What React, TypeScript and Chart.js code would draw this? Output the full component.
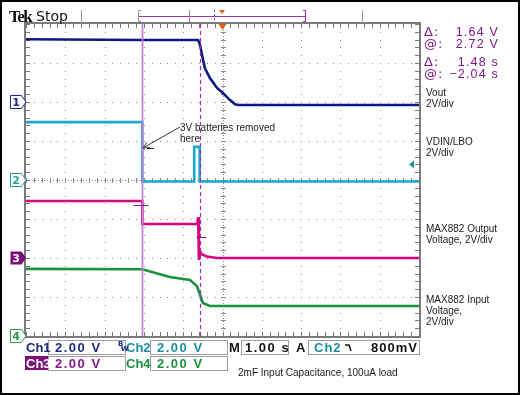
import React, { useEffect, useRef } from "react";
import { Chart, registerables } from "chart.js";
Chart.register(...registerables);

// time in seconds (1 s/div, trigger at 0), values in volts (2 V/div)
const ch1T = [-5, -2.04, -0.62, -0.57, -0.52, -0.45, -0.32, -0.14, 0.01, 0.19, 0.32, 0.4, 5];
const ch1V = [3.22, 3.18, 3.18, 2.92, 2.41, 1.74, 1.23, 0.72, 0.46, 0.1, -0.12, -0.15, -0.15];
const ch2T = [-5, -2.04, -2.04, -0.72, -0.72, -0.58, -0.58, 5];
const ch2V = [2.97, 2.97, -0.08, -0.08, 1.7, 1.7, -0.08, -0.08];
const ch3T = [-5, -2.04, -2.04, -0.64, -0.62, -0.6, -0.58, -0.52, -0.4, -0.14, 5];
const ch3V = [2.92, 2.92, 1.74, 1.74, 2.1, -0.1, 0.35, 0.18, 0.08, 0.0, 0.0];
const ch4T = [-5, -2.04, -1.34, -0.83, -0.65, -0.57, -0.5, -0.32, 5];
const ch4V = [3.44, 3.42, 3.03, 2.87, 2.56, 2.1, 1.69, 1.54, 1.54];

const channelNames = ["Ch1", "Ch2", "Ch3", "Ch4"];
const channelOffsets = [2, 0, -2, -4]; // ground positions in divisions
const channelColors = ["#0d1a86", "#1aa8d0", "#d8067e", "#17933c"];
const markerColors = ["#1a2a90", "#2a9c9c", "#7a0f7a", "#2a9a4a"];
const textColors = ["#1a2a86", "#1a8fa2", "#84168a", "#17933c"];
const voltsPerDiv = 2;
const cursorTimes = [-2.04, -0.56];
const cursorVolts = [2.72, 1.08];
const triggerLevel = 0.8;
const readouts = [["Δ:", "1.64 V"], ["@:", "2.72 V"], ["Δ:", "1.48 s"], ["@:", "−2.04 s"]];
const traceLabels = [
  ["Vout", "2V/div"],
  ["VDIN/LBO", "2V/div"],
  ["MAX882 Output", "Voltage, 2V/div"],
  ["MAX882 Input", "Voltage,", "2V/div"],
];
const scaleTexts = ["2.00 V", "2.00 V", "2.00 V", "2.00 V"];
const noteText = ["3V batteries removed", "here"];
const footText = "2mF Input Capacitance, 100uA load";

const PURPLE = "#84168a";
const STATUS_FONT = "bold 13px 'Liberation Sans', Arial, sans-serif";

const scopePlugin = {
  id: "scope",
  beforeDatasetsDraw(chart: any) {
    const { ctx, chartArea: a, scales } = chart;
    const xs = scales.x, ys = scales.y;
    ctx.save();
    ctx.fillStyle = "#8a8a8a";
    for (let i = -4; i <= 4; i++) {
      if (i === 0) continue;
      const px = Math.round(xs.getPixelForValue(i));
      for (let j = -20; j <= 20; j++) {
        const py = Math.round(ys.getPixelForValue(j / 5));
        ctx.fillRect(px, py, 1, 1);
      }
    }
    for (let j = -3; j <= 3; j++) {
      if (j === 0) continue;
      const py = Math.round(ys.getPixelForValue(j));
      for (let i = -25; i <= 25; i++) {
        const px = Math.round(xs.getPixelForValue(i / 5));
        ctx.fillRect(px, py, 1, 1);
      }
    }
    const cx = Math.round(xs.getPixelForValue(0));
    const cy = Math.round(ys.getPixelForValue(0));
    for (let j = -20; j <= 20; j++) {
      const py = Math.round(ys.getPixelForValue(j / 5));
      ctx.fillRect(cx - 2, py, 5, 1);
    }
    for (let py = a.top; py < a.bottom; py += 3) ctx.fillRect(cx, py, 1, 1);
    for (let i = -25; i <= 25; i++) {
      const px = Math.round(xs.getPixelForValue(i / 5));
      ctx.fillRect(px, cy - 2, 1, 5);
    }
    for (let px = a.left; px < a.right; px += 3) ctx.fillRect(px, cy, 1, 1);
    ctx.fillStyle = "#777";
    for (let i = -25; i <= 25; i++) {
      const px = Math.round(xs.getPixelForValue(i / 5));
      ctx.fillRect(px, a.top, 1, 4);
      ctx.fillRect(px, a.bottom - 4, 1, 4);
    }
    for (let j = -20; j <= 20; j++) {
      const py = Math.round(ys.getPixelForValue(j / 5));
      ctx.fillRect(a.left, py, 4, 1);
      ctx.fillRect(a.right - 4, py, 4, 1);
    }
    ctx.strokeStyle = "#7a7a7a";
    ctx.lineWidth = 2;
    ctx.strokeRect(a.left - 1, a.top - 1, a.right - a.left + 2, a.bottom - a.top + 2);
    ctx.restore();
  },
  afterDatasetsDraw(chart: any) {
    const { ctx, chartArea: a, scales } = chart;
    const xs = scales.x, ys = scales.y;
    ctx.save();
    const c1 = Math.round(xs.getPixelForValue(cursorTimes[0])) + 0.5;
    const c2 = Math.round(xs.getPixelForValue(cursorTimes[1])) + 0.5;
    ctx.strokeStyle = "#c47fd0";
    ctx.lineWidth = 1.8;
    ctx.beginPath();
    ctx.moveTo(c1, a.top);
    ctx.lineTo(c1, a.bottom);
    ctx.stroke();
    ctx.strokeStyle = "#a428b0";
    ctx.lineWidth = 1.2;
    ctx.setLineDash([4, 3]);
    ctx.beginPath();
    ctx.moveTo(c2, a.top);
    ctx.lineTo(c2, a.bottom);
    ctx.stroke();
    ctx.setLineDash([]);
    ctx.strokeStyle = "#8a1a8a";
    ctx.lineWidth = 1;
    const v1 = Math.round(ys.getPixelForValue(channelOffsets[2] + cursorVolts[0] / voltsPerDiv)) + 0.5;
    const v2 = Math.round(ys.getPixelForValue(channelOffsets[2] + cursorVolts[1] / voltsPerDiv)) + 0.5;
    ctx.beginPath();
    ctx.moveTo(c1 - 9, v1); ctx.lineTo(c1 + 6, v1);
    ctx.moveTo(c2 - 4, v2); ctx.lineTo(c2 + 6, v2);
    ctx.stroke();
    const tx = xs.getPixelForValue(0);
    ctx.fillStyle = "#e0620f";
    ctx.beginPath();
    ctx.moveTo(tx - 4, a.top); ctx.lineTo(tx + 4, a.top); ctx.lineTo(tx, a.top + 6); ctx.closePath();
    ctx.fill();
    const ty = ys.getPixelForValue(channelOffsets[1] + triggerLevel / voltsPerDiv);
    ctx.fillStyle = "#1f8f9a";
    ctx.beginPath();
    ctx.moveTo(a.right - 10, ty); ctx.lineTo(a.right - 5, ty - 4); ctx.lineTo(a.right - 5, ty + 4); ctx.closePath();
    ctx.fill();
    ctx.fillStyle = "#222";
    ctx.font = "10px 'Liberation Sans', Arial, sans-serif";
    ctx.textBaseline = "alphabetic";
    ctx.fillText(noteText[0], 180, 131);
    ctx.fillText(noteText[1], 180, 142);
    ctx.strokeStyle = "#333";
    ctx.lineWidth = 1;
    const ax = c1 + 0.5, ay = 148;
    ctx.beginPath();
    ctx.moveTo(180, 127); ctx.lineTo(ax, ay);
    ctx.stroke();
    const ang = Math.atan2(ay - 127, ax - 180);
    ctx.beginPath();
    ctx.moveTo(ax, ay);
    ctx.lineTo(ax - 7 * Math.cos(ang - 0.45), ay - 7 * Math.sin(ang - 0.45));
    ctx.moveTo(ax, ay);
    ctx.lineTo(ax - 7 * Math.cos(ang + 0.45), ay - 7 * Math.sin(ang + 0.45));
    ctx.stroke();
    ctx.fillStyle = "#222";
    ctx.fillRect(147, 148, 7, 1);
    for (let k = 0; k < 4; k++) {
      const my = Math.round(ys.getPixelForValue(channelOffsets[k]));
      const left = 10, right = 21, tip = 26;
      ctx.beginPath();
      ctx.moveTo(left + 0.5, my - 6.5);
      ctx.lineTo(right + 0.5, my - 6.5);
      ctx.lineTo(tip, my);
      ctx.lineTo(right + 0.5, my + 6.5);
      ctx.lineTo(left + 0.5, my + 6.5);
      ctx.closePath();
      if (k === 2) {
        ctx.fillStyle = markerColors[k];
        ctx.fill();
      } else {
        ctx.fillStyle = "#fff";
        ctx.fill();
        ctx.strokeStyle = markerColors[k];
        ctx.lineWidth = 1;
        ctx.stroke();
      }
      ctx.fillStyle = k === 2 ? "#fff" : markerColors[k];
      ctx.font = "bold 11px 'DejaVu Sans', sans-serif";
      ctx.textAlign = "center";
      ctx.textBaseline = "middle";
      ctx.fillText(String(k + 1), 16, my + 1);
    }
    ctx.restore();
  },
  afterDraw(chart: any) {
    const { ctx } = chart;
    ctx.save();
    ctx.fillStyle = "#111";
    ctx.font = "bold 17px 'Liberation Serif', 'Times New Roman', serif";
    ctx.textBaseline = "alphabetic";
    ctx.textAlign = "left";
    ctx.letterSpacing = "-1.5px";
    ctx.fillText("Tek", 9, 22);
    ctx.letterSpacing = "0px";
    ctx.font = "14px 'DejaVu Sans', sans-serif";
    ctx.fillText("Stop", 36, 21);
    ctx.fillStyle = "#999";
    ctx.fillRect(81, 10, 1, 13);
    ctx.fillRect(362, 10, 1, 13);
    ctx.fillRect(138, 10, 1, 12);
    ctx.fillRect(138, 21, 3, 1);
    ctx.fillRect(138, 10, 3, 1);
    ctx.fillStyle = "#9b3aa6";
    ctx.fillRect(139, 16, 167, 1);
    ctx.fillRect(305, 10, 1, 12);
    ctx.fillRect(303, 10, 3, 1);
    ctx.fillRect(303, 21, 3, 1);
    ctx.fillStyle = "#b670c0";
    ctx.fillRect(189, 10, 1, 12);
    ctx.fillStyle = "#a428b0";
    for (let y = 10; y < 22; y += 4) ctx.fillRect(214, y, 1, 2);
    ctx.fillStyle = "#e0620f";
    ctx.beginPath();
    ctx.moveTo(219, 10); ctx.lineTo(225, 10); ctx.lineTo(222, 14); ctx.closePath();
    ctx.fill();
    ctx.fillStyle = PURPLE;
    const rY = [36, 48, 66, 78];
    for (let i = 0; i < 4; i++) {
      ctx.textAlign = "left";
      ctx.letterSpacing = "1px";
      ctx.font = "13px 'DejaVu Sans', sans-serif";
      ctx.fillText(readouts[i][0], 424, rY[i]);
      ctx.textAlign = "right";
      ctx.font = "12.5px 'Liberation Sans', Arial, sans-serif";
      ctx.letterSpacing = "1.2px";
      ctx.fillText(readouts[i][1], 499, rY[i]);
    }
    ctx.letterSpacing = "0px";
    ctx.textAlign = "left";
    ctx.fillStyle = "#1a1a1a";
    ctx.font = "10px 'Liberation Sans', Arial, sans-serif";
    const labelY = [96, 145, 232, 303];
    traceLabels.forEach((lines, k) => {
      lines.forEach((t, i) => ctx.fillText(t, 426, labelY[k] + i * 11));
    });
    const drawBox = (x: number, y: number, w: number, h: number) => {
      ctx.fillStyle = "#fff";
      ctx.fillRect(x, y, w, h);
      ctx.strokeStyle = "#a0a0a0";
      ctx.lineWidth = 1;
      ctx.strokeRect(x + 0.5, y + 0.5, w - 1, h - 1);
    };
    const rowY = [340, 356];
    const rowH = 15;
    ctx.font = STATUS_FONT;
    ctx.textBaseline = "alphabetic";
    const positions = [[25, 48, 125], [125, 150, 227]];
    for (let k = 0; k < 4; k++) {
      const row = k < 2 ? 0 : 1;
      const col = k % 2;
      const [lx, bx, ex] = positions[col];
      const y = rowY[row];
      if (k === 2) {
        ctx.fillStyle = markerColors[2];
        ctx.fillRect(lx, y, bx - lx, rowH - 1);
      }
      drawBox(bx, y, ex - bx + 1, rowH);
      ctx.fillStyle = k === 2 ? "#fff" : textColors[k];
      ctx.letterSpacing = "0px";
      ctx.textAlign = "left";
      ctx.fillText(channelNames[k], lx + 1, y + 12);
      ctx.fillStyle = textColors[k];
      ctx.letterSpacing = "1.5px";
      ctx.fillText(scaleTexts[k], bx + 7, y + 12);
    }
    ctx.letterSpacing = "0px";
    ctx.fillStyle = "#1a2a86";
    ctx.font = "bold 7px 'DejaVu Sans', sans-serif";
    ctx.fillText("B", 118, 346);
    ctx.fillText("W", 121, 351);
    ctx.font = STATUS_FONT;
    ctx.fillStyle = "#111";
    ctx.fillText("M", 229, 352);
    drawBox(241, 340, 48, rowH);
    ctx.fillStyle = "#111";
    ctx.letterSpacing = "1.5px";
    ctx.fillText("1.00 s", 245, 352);
    ctx.letterSpacing = "0px";
    drawBox(308, 340, 112, rowH);
    ctx.fillStyle = "#111";
    ctx.fillText("A", 296, 352);
    ctx.fillStyle = "#1a8fa2";
    ctx.font = "bold 13px 'Liberation Sans', Arial, sans-serif";
    ctx.letterSpacing = "1px";
    ctx.fillText("Ch2", 314, 352);
    ctx.letterSpacing = "0px";
    ctx.strokeStyle = "#111";
    ctx.lineWidth = 1.5;
    ctx.beginPath();
    ctx.moveTo(345, 345); ctx.lineTo(349, 345); ctx.lineTo(351, 351);
    ctx.stroke();
    ctx.fillStyle = "#111";
    ctx.font = STATUS_FONT;
    ctx.textAlign = "right";
    ctx.letterSpacing = "1px";
    ctx.fillText("800mV", 418, 352);
    ctx.letterSpacing = "0px";
    ctx.textAlign = "left";
    ctx.font = "10px 'Liberation Sans', Arial, sans-serif";
    ctx.fillStyle = "#1a1a1a";
    ctx.fillText(footText, 238, 376);
    ctx.strokeStyle = "#000";
    ctx.lineWidth = 2;
    ctx.strokeRect(1, 1, 518, 393);
    ctx.restore();
  },
};

export default function App() {
  const ref = useRef<HTMLCanvasElement>(null);
  useEffect(() => {
    const series = [
      [ch1T, ch1V],
      [ch2T, ch2V],
      [ch3T, ch3V],
      [ch4T, ch4V],
    ];
    const datasets = series.map(([t, v], k) => ({
      label: channelNames[k],
      data: t.map((x, i) => ({ x, y: channelOffsets[k] + v[i] / voltsPerDiv })),
      borderColor: channelColors[k],
      backgroundColor: channelColors[k],
      borderWidth: 2.6,
      pointRadius: 0,
      tension: 0,
      fill: false,
    }));
    const chart = new Chart(ref.current!, {
      type: "line",
      data: { datasets },
      options: {
        animation: false,
        responsive: false,
        parsing: false as any,
        layout: { padding: { left: 26, right: 101, top: 24, bottom: 59 } },
        plugins: { legend: { display: false }, tooltip: { enabled: false } },
        scales: {
          x: { type: "linear", min: -5, max: 5, display: false },
          y: { type: "linear", min: -4, max: 4, display: false },
        },
      },
      plugins: [scopePlugin],
    });
    return () => chart.destroy();
  }, []);
  return (
    <div style={{ position: "absolute", left: 0, top: 0, width: 520, height: 395, background: "#fff" }}>
      <canvas ref={ref} width={520} height={395} style={{ width: 520, height: 395, display: "block" }} />
    </div>
  );
}
